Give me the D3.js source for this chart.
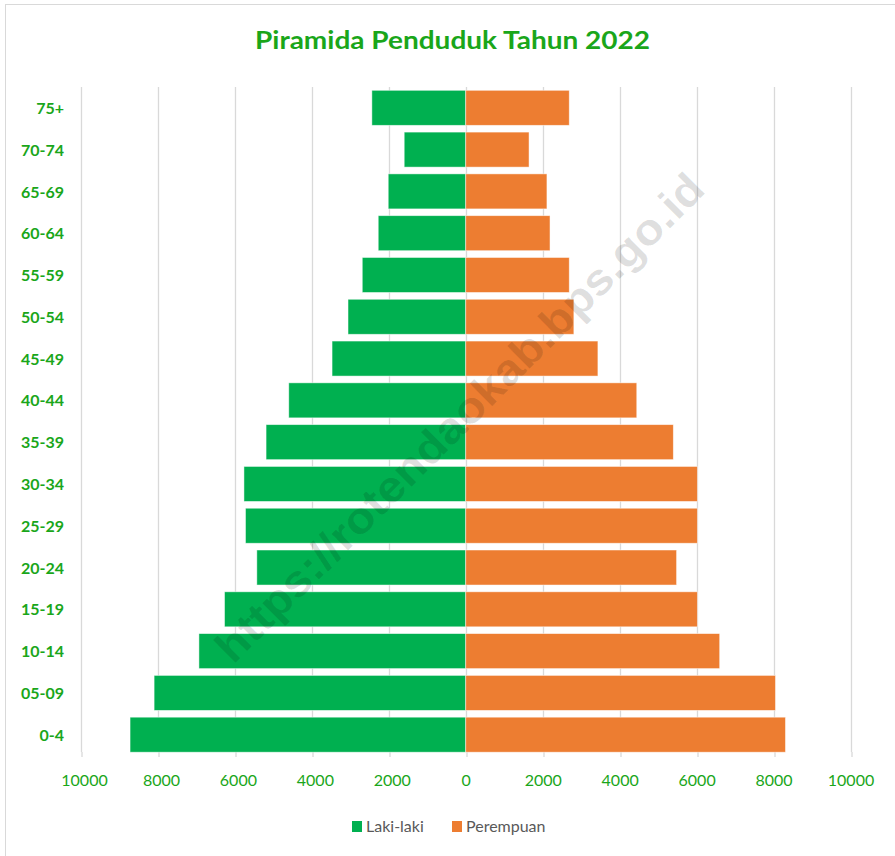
<!DOCTYPE html>
<html>
<head>
<meta charset="utf-8">
<script src="https://cdn.jsdelivr.net/npm/d3@7"></script>
<style>
  html, body { margin: 0; padding: 0; background: #ffffff; }
  svg { display: block; }
</style>
</head>
<body>
<svg id="chart" width="895" height="856"></svg>
<script>
// ---- Data ----
const ageGroups = ["75+", "70-74", "65-69", "60-64", "55-59", "50-54", "45-49", "40-44",
                   "35-39", "30-34", "25-29", "20-24", "15-19", "10-14", "05-09", "0-4"];
const lakiLaki  = [2440, 1600, 2015, 2275, 2690, 3060, 3475, 4600,
                   5190, 5765, 5725, 5430, 6270, 6935, 8100, 8725];
const perempuan = [2690, 1645, 2110, 2190, 2690, 2810, 3435, 4445,
                   5395, 6020, 6020, 5480, 6020, 6600, 8050, 8310];
const tickValues = [-10000, -8000, -6000, -4000, -2000, 0, 2000, 4000, 6000, 8000, 10000];
const seriesNames = ["Laki-laki", "Perempuan"];
const titleText = "Piramida Penduduk Tahun 2022";
const watermarkText = "https://rotendaokab.bps.go.id";

// ---- Styles ----
const GREEN = "#00B050", ORANGE = "#ED7D31", TEXT_GREEN = "#1aa61a", GRID = "#d9d9d9";

const svg = d3.select("#chart");

// chart frame
svg.append("rect").attr("x", 5.5).attr("y", 4.5).attr("width", 900).attr("height", 900)
   .attr("fill", "#fff").attr("stroke", "#d9d9d9").attr("stroke-width", 1);

const x = d3.scaleLinear().domain([-10000, 10000]).range([81, 850.5]);
const y = d3.scaleBand().domain(ageGroups).range([87, 755.5]).paddingInner(0.162).paddingOuter(0.079);
const plotBottom = 752;

// gridlines
svg.append("g").selectAll("line").data(tickValues).join("line")
   .attr("x1", d => Math.round(x(d)) + 0.5).attr("x2", d => Math.round(x(d)) + 0.5)
   .attr("y1", 87).attr("y2", plotBottom)
   .attr("stroke", GRID).attr("stroke-width", 1.3);

// x axis
const xAxis = d3.axisBottom(x).tickValues(tickValues).tickSize(5)
  .tickFormat(d => String(Math.abs(d)));
const gx = svg.append("g").attr("transform", "translate(0," + plotBottom + ")").call(xAxis);
gx.select(".domain").remove();
gx.selectAll(".tick line").attr("stroke", GRID).attr("stroke-width", 1.3)
  .attr("transform", function(d){ return "translate(" + (Math.round(x(d)) + 0.5 - x(d)) + ",0)"; });
gx.selectAll(".tick text")
  .attr("y", 0).attr("dy", 0)
  .attr("transform", d => "translate(" + (d < 0 ? 3 : 0) + ",34)")
  .attr("fill", TEXT_GREEN)
  .style("font-family", "Lato, 'Open Sans', sans-serif")
  .style("font-size", "16px");

// bars
const bars = svg.append("g");
bars.selectAll("rect.male").data(ageGroups).join("rect")
  .attr("class", "male")
  .attr("x", (d, i) => x(-lakiLaki[i]))
  .attr("y", d => y(d))
  .attr("width", (d, i) => x(0) - x(-lakiLaki[i]))
  .attr("height", y.bandwidth())
  .attr("fill", GREEN).attr("stroke", "#ffffff").attr("stroke-opacity", 0.6).attr("stroke-width", 0.8);
bars.selectAll("rect.female").data(ageGroups).join("rect")
  .attr("class", "female")
  .attr("x", x(0))
  .attr("y", d => y(d))
  .attr("width", (d, i) => x(perempuan[i]) - x(0))
  .attr("height", y.bandwidth())
  .attr("fill", ORANGE).attr("stroke", "#ffffff").attr("stroke-opacity", 0.6).attr("stroke-width", 0.8);

// y axis labels
const yAxis = d3.axisLeft(y).tickSize(0).tickPadding(0);
const gy = svg.append("g").attr("transform", "translate(64,1)").call(yAxis);
gy.select(".domain").remove();
gy.selectAll(".tick text")
  .attr("fill", TEXT_GREEN)
  .style("font-family", "Lato, 'Open Sans', sans-serif")
  .style("font-size", "16px")
  .style("font-weight", "bold");

// title
svg.append("text").attr("x", 452.5).attr("y", 49)
  .attr("text-anchor", "middle")
  .attr("fill", TEXT_GREEN)
  .attr("textLength", 395).attr("lengthAdjust", "spacingAndGlyphs")
  .style("font-family", "Lato, 'Open Sans', sans-serif")
  .style("font-size", "25px").style("font-weight", "bold")
  .text(titleText);

// legend
const legendItems = [
  { name: seriesNames[0], color: GREEN, sx: 352, tx: 366 },
  { name: seriesNames[1], color: ORANGE, sx: 452, tx: 466 }
];
const lg = svg.append("g");
legendItems.forEach(it => {
  lg.append("rect").attr("x", it.sx).attr("y", 821).attr("width", 10).attr("height", 11).attr("fill", it.color);
  lg.append("text").attr("x", it.tx).attr("y", 831.5)
    .attr("fill", "#595959")
    .style("font-family", "Lato, 'Open Sans', sans-serif")
    .style("font-size", "16px")
    .text(it.name);
});

// watermark
svg.append("text")
  .attr("transform", "translate(462,420) rotate(-45)")
  .attr("text-anchor", "middle").attr("dominant-baseline", "middle")
  .attr("fill", "#000").attr("fill-opacity", 0.13)
  .attr("textLength", 670).attr("lengthAdjust", "spacingAndGlyphs")
  .style("font-family", "'Liberation Sans', Arial, sans-serif")
  .style("font-size", "44px").style("font-weight", "bold")
  .text(watermarkText);
</script>
</body>
</html>
